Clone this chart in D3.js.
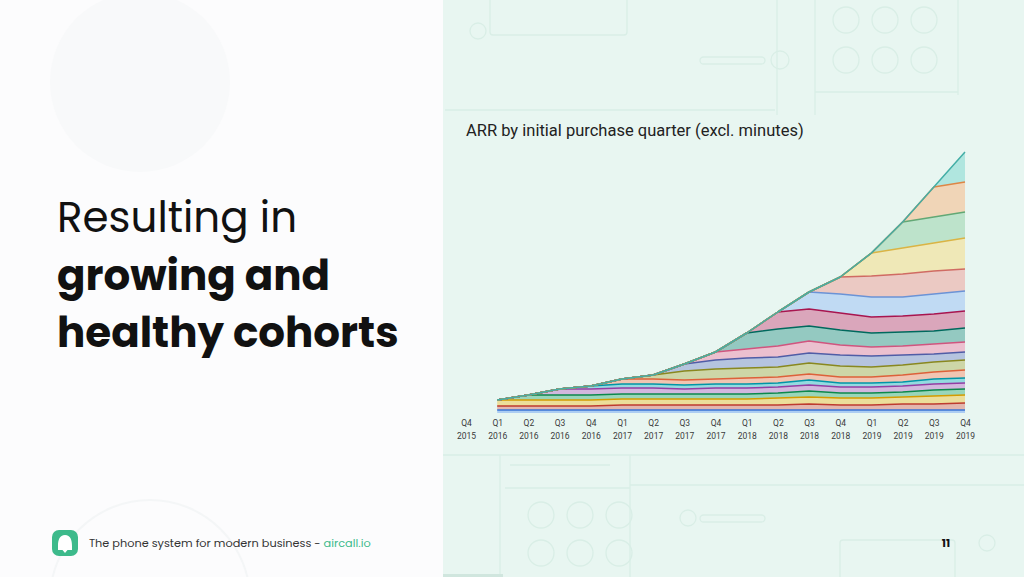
<!DOCTYPE html>
<html>
<head>
<meta charset="utf-8">
<script src="https://cdn.jsdelivr.net/npm/d3@7"></script>
<style>
  html, body { margin: 0; padding: 0; background: #fdfdfd; }
  svg { display: block; }
</style>
</head>
<body>
<svg id="chart" width="1024" height="577"></svg>
<script>
// ---------------- DATA ----------------
const axisQuarters = ["Q4 2015","Q1 2016","Q2 2016","Q3 2016","Q4 2016","Q1 2017","Q2 2017","Q3 2017","Q4 2017",
                      "Q1 2018","Q2 2018","Q3 2018","Q4 2018","Q1 2019","Q2 2019","Q3 2019","Q4 2019"];
const dataQuarters = axisQuarters.slice(1);

const cohorts = ["Q3 2015","Q4 2015","Q1 2016","Q2 2016","Q3 2016","Q4 2016","Q1 2017","Q2 2017","Q3 2017",
                 "Q4 2017","Q1 2018","Q2 2018","Q3 2018","Q4 2018","Q1 2019","Q2 2019","Q3 2019","Q4 2019"];

// ARR per cohort per quarter (Q1 2016 ... Q4 2019), arbitrary units
const cohortQ3_2015 = [3,3,3,3,3,3,3,3,3,3,3,3,3,3,3,3];
const cohortQ4_2015 = [4,4,4,4,5,5,5,5,5,5,6,5,5,6,6,7];
const cohortQ1_2016 = [6,6,6,6,6,6,6,6,6,7,7,7,7,7,8,8];
const cohortQ2_2016 = [0,5,5,5,5,5,5,5,5,5,6,5,5,5,6,6];
const cohortQ3_2016 = [0,0,6,6,6,6,5,6,6,6,6,6,6,6,6,6];
const cohortQ4_2016 = [0,0,0,3,4,4,4,4,4,4,5,4,4,4,5,5];
const cohortQ1_2017 = [0,0,0,0,5,5,5,5,6,6,6,6,6,7,7,8];
const cohortQ2_2017 = [0,0,0,0,0,4,9,10,10,10,11,11,10,10,10,10];
const cohortQ3_2017 = [0,0,0,0,0,0,7,9,10,10,10,11,11,10,8,8];
const cohortQ4_2017 = [0,0,0,0,0,0,0,8,9,11,12,10,9,9,10,10];
const cohortQ1_2018 = [0,0,0,0,0,0,0,0,16,17,15,15,14,14,13,14];
const cohortQ2_2018 = [0,0,0,0,0,0,0,0,0,17,17,17,16,16,17,17];
const cohortQ3_2018 = [0,0,0,0,0,0,0,0,0,0,17,19,20,19,20,20];
const cohortQ4_2018 = [0,0,0,0,0,0,0,0,0,0,0,17,21,23,23,22];
const cohortQ1_2019 = [0,0,0,0,0,0,0,0,0,0,0,0,23,26,28,31];
const cohortQ2_2019 = [0,0,0,0,0,0,0,0,0,0,0,0,0,26,26,26];
const cohortQ3_2019 = [0,0,0,0,0,0,0,0,0,0,0,0,0,0,30,30];
const cohortQ4_2019 = [0,0,0,0,0,0,0,0,0,0,0,0,0,0,0,30];

const cohortValues = [cohortQ3_2015,cohortQ4_2015,cohortQ1_2016,cohortQ2_2016,cohortQ3_2016,cohortQ4_2016,
  cohortQ1_2017,cohortQ2_2017,cohortQ3_2017,cohortQ4_2017,cohortQ1_2018,cohortQ2_2018,cohortQ3_2018,
  cohortQ4_2018,cohortQ1_2019,cohortQ2_2019,cohortQ3_2019,cohortQ4_2019];

const seriesColors = ["#4285f4","#db4437","#f4b400","#0f9d58","#ab47bc","#00acc1","#ff7043","#9e9d24","#5c6bc0",
  "#f06292","#00796b","#c2185b","#7baaf7","#f07b72","#fcd04f","#71c287","#ff9b50","#4ec9c0"];

const chartTitle = "ARR by initial purchase quarter (excl. minutes)";

// ---------------- DRAW ----------------
const svg = d3.select("#chart");

// backgrounds
svg.append("rect").attr("x",0).attr("y",0).attr("width",443).attr("height",577).attr("fill","#fcfcfd");
svg.append("circle").attr("cx",140).attr("cy",82).attr("r",90).attr("fill","#f8f9fa");
svg.append("circle").attr("cx",150).attr("cy",600).attr("r",100).attr("fill","none").attr("stroke","#f4f6f7").attr("stroke-width",2);
svg.append("rect").attr("x",443).attr("y",0).attr("width",581).attr("height",577).attr("fill","#e8f6f1");

// faint wireframe decorations on the right panel
const deco = svg.append("g").attr("fill","none").attr("stroke","#d9eee6").attr("stroke-width",1.3);
deco.append("rect").attr("x",490).attr("y",-5).attr("width",137).attr("height",40).attr("rx",3);
deco.append("circle").attr("cx",478).attr("cy",31).attr("r",8);
deco.append("rect").attr("x",700).attr("y",57).attr("width",65).attr("height",7).attr("rx",3.5);
deco.append("circle").attr("cx",780).attr("cy",60).attr("r",9);
deco.append("line").attr("x1",445).attr("y1",110).attr("x2",775).attr("y2",110);
deco.append("line").attr("x1",777).attr("y1",0).attr("x2",777).attr("y2",115);
deco.append("line").attr("x1",815).attr("y1",0).attr("x2",815).attr("y2",115);
deco.append("line").attr("x1",958).attr("y1",0).attr("x2",958).attr("y2",95);
deco.append("line").attr("x1",815).attr("y1",92).attr("x2",958).attr("y2",92);
[846,885,924].forEach(cx => [20,60].forEach(cy =>
  deco.append("circle").attr("cx",cx).attr("cy",cy).attr("r",13)));
deco.append("line").attr("x1",443).attr("y1",455).attr("x2",1024).attr("y2",455);
deco.append("line").attr("x1",500).attr("y1",455).attr("x2",500).attr("y2",577);
deco.append("line").attr("x1",630).attr("y1",455).attr("x2",630).attr("y2",577);
deco.append("line").attr("x1",630).attr("y1",485).attr("x2",1024).attr("y2",485);
deco.append("line").attr("x1",510).attr("y1",465).attr("x2",610).attr("y2",465);
deco.append("line").attr("x1",505).attr("y1",488).attr("x2",630).attr("y2",488);
[541,580,619].forEach(cx => [515,553].forEach(cy =>
  deco.append("circle").attr("cx",cx).attr("cy",cy).attr("r",13)));
deco.append("circle").attr("cx",688).attr("cy",518).attr("r",8);
deco.append("rect").attr("x",700).attr("y",515).attr("width",65).attr("height",7).attr("rx",3.5);
deco.append("rect").attr("x",840).attr("y",540).attr("width",115).attr("height",45).attr("rx",3);
deco.append("circle").attr("cx",987).attr("cy",543).attr("r",8);
svg.append("rect").attr("x",443).attr("y",574).attr("width",60).attr("height",3).attr("fill","#d0e6de");

// left headline
const head = svg.append("g").attr("font-family","'Poppins','Lato','Open Sans',sans-serif").attr("fill","#111");
head.append("text").attr("x",57).attr("y",232).attr("font-size",42).attr("font-weight",400).text("Resulting in");
head.append("text").attr("x",57).attr("y",290).attr("font-size",42).attr("font-weight",700).text("growing and");
head.append("text").attr("x",57).attr("y",347).attr("font-size",42).attr("font-weight",700).text("healthy cohorts");

// footer
svg.append("rect").attr("x",52).attr("y",530).attr("width",26).attr("height",26).attr("rx",7).attr("fill","#3dba8b");
svg.append("path").attr("d","M65,535 C59.5,535 58,540 58,546 L58,550 L72,550 L72,546 C72,540 70.5,535 65,535 Z M62.5,550 L67.5,550 L65,553 Z").attr("fill","#fff");
const foot = svg.append("text").attr("x",89).attr("y",547).attr("font-family","'Poppins','Lato',sans-serif").attr("font-size",11.3).attr("fill","#333");
foot.append("tspan").text("The phone system for modern business - ");
foot.append("tspan").attr("fill","#3dba8b").text("aircall.io");
svg.append("text").attr("x",946).attr("y",547).attr("font-family","'Poppins','Lato',sans-serif").attr("font-weight",700).attr("font-size",11).attr("text-anchor","middle").attr("fill","#111").text("11");

// chart title
svg.append("text").attr("x",466).attr("y",136).attr("font-family","Roboto, sans-serif").attr("font-size",16.5).attr("fill","#222").text(chartTitle);

// scales
const xAxisScale = d3.scalePoint().domain(axisQuarters).range([466, 965]);
const table = dataQuarters.map((q, i) => {
  const row = { quarter: q };
  cohorts.forEach((c, k) => row[c] = cohortValues[k][i]);
  return row;
});
const stacked = d3.stack().keys(cohorts)(table);
const totals = table.map(r => d3.sum(cohorts, c => r[c]));
const y = d3.scaleLinear().domain([0, d3.max(totals)]).range([413, 152]);
const color = d3.scaleOrdinal().domain(cohorts).range(seriesColors);

const area = d3.area().x(d => xAxisScale(d.data.quarter)).y0(d => y(d[0])).y1(d => y(d[1]));
const line = d3.line().x(d => xAxisScale(d.data.quarter)).y(d => y(d[1]));

const plot = svg.append("g");
plot.selectAll("path.area").data(stacked).join("path")
  .attr("class","area").attr("d", area)
  .attr("fill", d => color(d.key)).attr("fill-opacity", 0.36).attr("stroke","none");
plot.selectAll("path.line").data(stacked).join("path")
  .attr("class","line").attr("d", line)
  .attr("fill","none").attr("stroke", d => d3.color(color(d.key)).darker(0.4)).attr("stroke-width", 1.5).attr("stroke-linejoin","round");

// x axis with two-line labels
const axis = svg.append("g").attr("transform","translate(0,418)")
  .call(d3.axisBottom(xAxisScale).tickSize(0).tickPadding(0));
axis.select(".domain").remove();
axis.selectAll(".tick text").each(function(d) {
  const t = d3.select(this);
  const [qq, yy] = d.split(" ");
  t.text(null).attr("font-family","Roboto, sans-serif").attr("font-size",8.5).attr("fill","#3a3a3a").attr("y",0).attr("dy",null);
  t.append("tspan").attr("x",0).attr("y",8).text(qq);
  t.append("tspan").attr("x",0).attr("y",21).text(yy);
});
</script>
</body>
</html>
